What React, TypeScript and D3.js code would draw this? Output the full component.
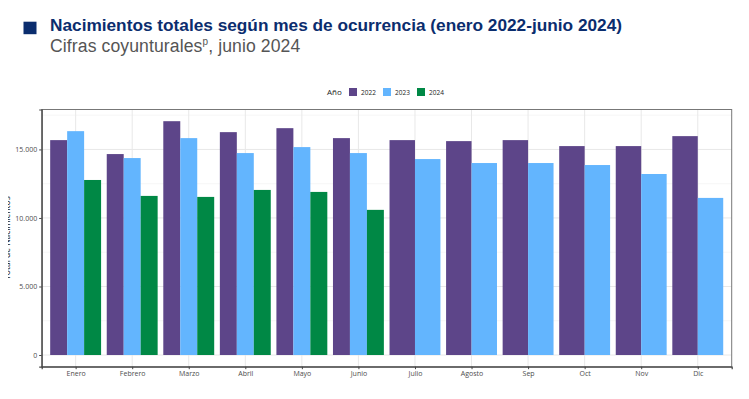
import React, { useEffect, useRef } from 'react';
import * as d3 from 'd3';

const months = ['Enero', 'Febrero', 'Marzo', 'Abril', 'Mayo', 'Junio', 'Julio', 'Agosto', 'Sep', 'Oct', 'Nov', 'Dic'];
const years = ['2022', '2023', '2024'];
const births2022 = [15680, 14662, 17061, 16262, 16552, 15826, 15680, 15607, 15680, 15244, 15244, 15971];
const births2023 = [16334, 14371, 15826, 14735, 15171, 14735, 14298, 14008, 14008, 13862, 13208, 11463];
const births2024 = [12772, 11609, 11536, 12045, 11900, 10591];
const yTicks = [0, 5000, 10000, 15000];
const yMinorTicks = [2500, 7500, 12500, 17500];

const COLORS: Record<string, string> = { '2022': '#5D4589', '2023': '#63B5FE', '2024': '#008845' };
const TICK_FONT = '"Open Sans", sans-serif';

const W = 749;
const H = 399;
const panel = { left: 41.7, right: 731.7, top: 109.5, bottom: 366.7 };

const Chart = () => {
  const svgRef = useRef<SVGSVGElement>(null);

  useEffect(() => {
    const svg = d3.select(svgRef.current);
    svg.selectAll('*').remove();

    const series = [births2022, births2023, births2024];
    const maxVal = d3.max(series.flat()) as number;

    // discrete axis with 0.6 unit expansion on both sides, like ggplot
    const x = d3
      .scalePoint<string>()
      .domain(months)
      .range([panel.left, panel.right])
      .padding(0.6);
    const step = x.step();

    const y = d3
      .scaleLinear()
      .domain([-0.05 * maxVal, 1.05 * maxVal])
      .range([panel.bottom, panel.top]);

    const g = svg.append('g');

    // panel background + grid
    g.append('rect')
      .attr('x', panel.left)
      .attr('y', panel.top)
      .attr('width', panel.right - panel.left)
      .attr('height', panel.bottom - panel.top)
      .attr('fill', '#fff');

    g.selectAll('.minor')
      .data(yMinorTicks)
      .enter()
      .append('line')
      .attr('x1', panel.left)
      .attr('x2', panel.right)
      .attr('y1', (d) => y(d))
      .attr('y2', (d) => y(d))
      .attr('stroke', '#f0f0f0')
      .attr('stroke-width', 0.6);

    g.selectAll('.major')
      .data(yTicks)
      .enter()
      .append('line')
      .attr('x1', panel.left)
      .attr('x2', panel.right)
      .attr('y1', (d) => y(d))
      .attr('y2', (d) => y(d))
      .attr('stroke', '#e8e8e8')
      .attr('stroke-width', 1);

    g.selectAll('.vgrid')
      .data(months)
      .enter()
      .append('line')
      .attr('x1', (d) => x(d) as number)
      .attr('x2', (d) => x(d) as number)
      .attr('y1', panel.top)
      .attr('y2', panel.bottom)
      .attr('stroke', '#e8e8e8')
      .attr('stroke-width', 1);

    // bars, dodged per month by the number of years present
    const groupWidth = step * 0.9;
    const rows: { month: string; year: string; value: number; i: number; n: number }[] = [];
    months.forEach((m, mi) => {
      const present = years
        .map((yr, yi) => ({ yr, v: series[yi][mi] }))
        .filter((d) => d.v !== undefined);
      present.forEach((d, i) => rows.push({ month: m, year: d.yr, value: d.v, i, n: present.length }));
    });

    g.selectAll('.bar')
      .data(rows)
      .enter()
      .append('rect')
      .attr('x', (d) => (x(d.month) as number) - groupWidth / 2 + (d.i * groupWidth) / d.n)
      .attr('y', (d) => y(d.value))
      .attr('width', (d) => groupWidth / d.n)
      .attr('height', (d) => y(0) - y(d.value))
      .attr('fill', (d) => COLORS[d.year]);

    // panel border
    g.append('rect')
      .attr('x', panel.left)
      .attr('y', panel.top)
      .attr('width', panel.right - panel.left)
      .attr('height', panel.bottom - panel.top)
      .attr('fill', 'none')
      .attr('stroke', '#777')
      .attr('stroke-width', 1);

    // axes
    const yAxis = g
      .append('g')
      .attr('transform', `translate(${panel.left},0)`)
      .call(
        d3
          .axisLeft(y)
          .tickValues(yTicks)
          .tickSize(2.5)
          .tickPadding(2)
          .tickFormat((d) => d3.format(',')(d as number).replace(/,/g, '.'))
      );
    yAxis.select('.domain').attr('stroke', '#444').attr('stroke-width', 1.2);
    yAxis.selectAll('.tick line').attr('stroke', '#444');
    yAxis
      .selectAll('.tick text')
      .attr('fill', '#4d4d4d')
      .style('font-family', TICK_FONT)
      .style('font-size', '7px');

    const xAxis = g
      .append('g')
      .attr('transform', `translate(0,${panel.bottom})`)
      .call(d3.axisBottom(x).tickSize(2.5).tickPadding(2));
    xAxis.select('.domain').attr('stroke', '#444').attr('stroke-width', 1.2);
    xAxis.selectAll('.tick line').attr('stroke', '#444');
    xAxis
      .selectAll('.tick text')
      .attr('fill', '#4d4d4d')
      .style('font-family', TICK_FONT)
      .style('font-size', '7px');

    svg
      .append('text')
      .attr('transform', `translate(10,${(panel.top + panel.bottom) / 2}) rotate(-90)`)
      .attr('text-anchor', 'middle')
      .attr('fill', '#111')
      .style('font-family', TICK_FONT)
      .style('font-size', '8.5px')
      .text('Total de Nacimientos');

    // legend
    const legend = svg.append('g').attr('transform', 'translate(327,92)');
    legend
      .append('text')
      .attr('x', 0)
      .attr('y', 3)
      .attr('fill', '#222')
      .style('font-family', TICK_FONT)
      .style('font-size', '8px')
      .text('Año');
    years.forEach((yr, i) => {
      const lx = 22 + i * 34;
      legend
        .append('rect')
        .attr('x', lx)
        .attr('y', -4)
        .attr('width', 8)
        .attr('height', 8)
        .attr('fill', COLORS[yr]);
      legend
        .append('text')
        .attr('x', lx + 12)
        .attr('y', 2.5)
        .attr('fill', '#222')
        .style('font-family', TICK_FONT)
        .style('font-size', '6.5px')
        .text(yr);
    });

    // title block
    svg
      .append('rect')
      .attr('x', 23.5)
      .attr('y', 21.7)
      .attr('width', 13)
      .attr('height', 12.5)
      .attr('fill', '#0B2D6E');
    svg
      .append('text')
      .attr('x', 50)
      .attr('y', 30.7)
      .attr('fill', '#0B2D6E')
      .attr('textLength', 572)
      .attr('lengthAdjust', 'spacingAndGlyphs')
      .style('font-family', '"Liberation Sans", Arial, sans-serif')
      .style('font-weight', 'bold')
      .style('font-size', '16px')
      .text('Nacimientos totales según mes de ocurrencia (enero 2022-junio 2024)');
    const sub = svg
      .append('text')
      .attr('x', 50)
      .attr('y', 51.7)
      .attr('fill', '#555')
      .style('font-family', '"Liberation Sans", Arial, sans-serif')
      .style('font-size', '17.6px')
      .style('letter-spacing', '0.1px');
    sub.append('tspan').text('Cifras coyunturales');
    sub.append('tspan').attr('dy', -6.5).style('font-size', '10px').text('p');
    sub.append('tspan').attr('dy', 6.5).text(', junio 2024');
  }, []);

  return <svg ref={svgRef} width={W} height={H} style={{ display: 'block' }} />;
};

export default function App() {
  return (
    <div style={{ width: W, height: H, margin: -8, background: '#fff' }}>
      <Chart />
    </div>
  );
}
